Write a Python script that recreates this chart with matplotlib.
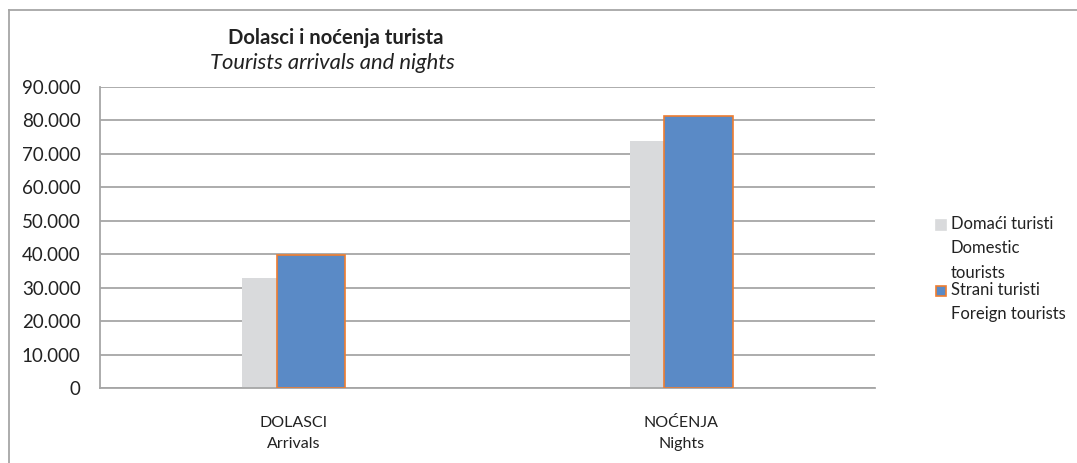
import matplotlib.pyplot as plt
from matplotlib.patches import Rectangle
from matplotlib.lines import Line2D
from matplotlib.ticker import FuncFormatter
import numpy as np

plt.rcParams['font.family'] = ['Lato', 'DejaVu Sans']

categories = ["DOLASCI\nArrivals", "NOĆENJA\nNights"]
domestic = [33000, 73800]
foreign = [39700, 81200]
series_labels = ["Domaći turisti\nDomestic\ntourists", "Strani turisti\nForeign tourists"]
yticks = np.arange(0, 90001, 10000)

W, H = 1077, 463
fig = plt.figure(figsize=(W / 100, H / 100), dpi=100)
ax = fig.add_axes([100 / W, (H - 388) / H, 775 / W, 301 / H])

x = np.arange(len(categories))
bw = 0.178
off = 0.0445
grid_c = "#a6a6a6"

ax.bar(x - off, domestic, width=bw, color="#d9dadc", zorder=2)
ax.bar(x + off, foreign, width=bw, color="#5a8ac6", edgecolor="#ed7d31",
       linewidth=1.2, zorder=3)

ax.set_xlim(-0.5, 1.5)
ax.set_ylim(0, 90000)
ax.set_yticks(yticks)
ax.yaxis.set_major_formatter(FuncFormatter(lambda v, p: f"{int(v):,}".replace(",", ".")))
ax.set_xticks(x)
ax.set_xticklabels(categories, linespacing=1.65)
ax.tick_params(axis="y", length=0, pad=14, labelsize=13.5, labelcolor="#222222")
ax.tick_params(axis="x", length=0, pad=20, labelsize=11.5, labelcolor="#222222")
ax.grid(axis="y", color=grid_c, linewidth=1.3, zorder=0)
for s in ["top", "right"]:
    ax.spines[s].set_visible(False)
for s in ["left", "bottom"]:
    ax.spines[s].set_color(grid_c)
    ax.spines[s].set_linewidth(1.3)

# outer chart frame
fig.add_artist(Line2D([9 / W, 9 / W], [0, 1 - 10 / H], transform=fig.transFigure,
                      color="#a6a6a6", linewidth=1.3))
fig.add_artist(Line2D([9 / W, 1], [1 - 10 / H, 1 - 10 / H], transform=fig.transFigure,
                      color="#a6a6a6", linewidth=1.3))

# titles
fig.text(336 / W, 1 - 38 / H, "Dolasci i noćenja turista", ha="center", va="center",
         fontsize=14.6, fontweight="bold", color="#222222")
fig.text(332 / W, 1 - 63 / H, "Tourists arrivals and nights", ha="center", va="center",
         fontsize=15.8, fontstyle="italic", color="#222222")

# legend
leg_y = [225, 291]
leg_face = ["#d9dadc", "#5a8ac6"]
leg_edge = ["#d9dadc", "#ed7d31"]
for lab, yy, fc, ec in zip(series_labels, leg_y, leg_face, leg_edge):
    fig.add_artist(Rectangle((936 / W, 1 - (yy + 5) / H), 10 / W, 10 / H,
                             transform=fig.transFigure, facecolor=fc, edgecolor=ec,
                             linewidth=1.2))
    fig.text(951 / W, 1 - (yy - 9) / H, lab, ha="left", va="top", fontsize=12,
             color="#222222", linespacing=1.65)

fig.savefig("out.png", dpi=100)
